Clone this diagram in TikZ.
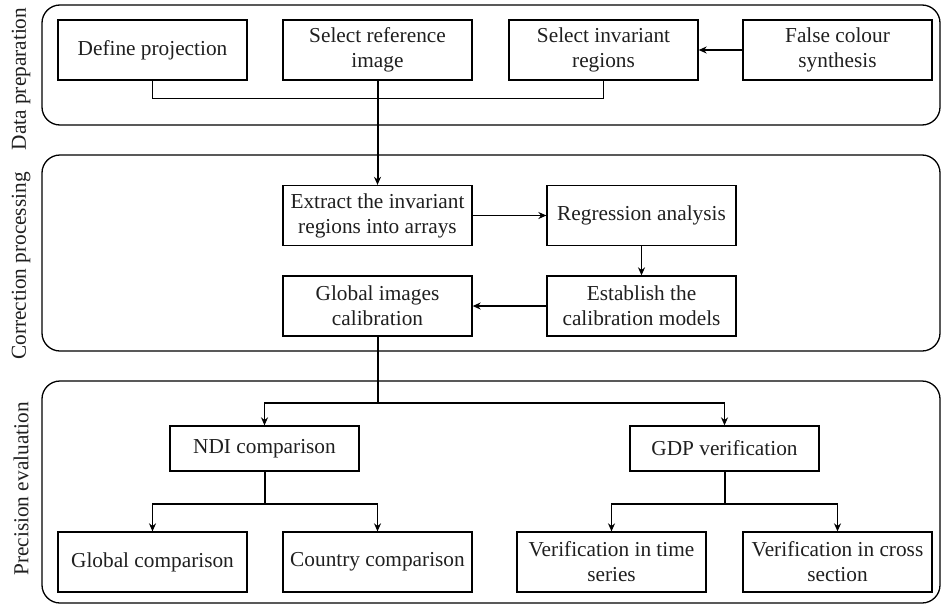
\documentclass[tikz,border=0pt]{standalone}
\usepackage{fontspec}
\setmainfont{Liberation Serif}
\usetikzlibrary{arrows.meta}
\begin{document}
\begin{tikzpicture}[x=1pt,y=-1pt,
  every node/.style={font=\fontsize{21.3}{25}\selectfont, text=black!88},
  box/.style={draw, line width=1.3pt, minimum width=189pt, minimum height=60pt, inner sep=0pt, align=center},
  sbox/.style={box, minimum height=45pt},
  panel/.style={draw, line width=1.3pt, rounded corners=18pt},
  link/.style={line width=1.3pt},
  stem/.style={line width=2pt},
  arr/.style={line width=1.3pt, -{Stealth[length=8pt,width=7pt]}},
  side/.style={rotate=90, anchor=center}]
\useasboundingbox (0,0) rectangle (941,605);
% panels
\draw[panel] (42,5) rectangle (940,125);
\draw[panel] (42,155) rectangle (940,351);
\draw[panel] (42,381) rectangle (940,603);
% side labels
\node[side] (l1) at (21,79) {Data preparation};
\node[side] (l2) at (21,266) {Correction processing};
\node[side] (l3) at (21,489) {Precision evaluation};
% row 1
\node[box] (dp) at (152.5,50) {Define projection};
\node[box] (sr) at (377.5,50) {Select reference\\image};
\node[box] (si) at (603.5,50) {Select invariant\\regions};
\node[box] (fc) at (837.5,50) {False colour\\synthesis};
% row 2
\node[box] (ex) at (377.5,215.5) {Extract the invariant\\regions into arrays};
\node[box] (ra) at (641.5,215.5) {Regression analysis};
\node[box] (es) at (641.5,306) {Establish the\\calibration models};
\node[box] (gi) at (377.5,306) {Global images\\calibration};
% row 3
\node[sbox] (ndi) at (264.5,448.5) {NDI comparison};
\node[sbox] (gdp) at (724.5,448.5) {GDP verification};
\node[box] (gc) at (152.5,562) {Global comparison};
\node[box] (cc) at (377.5,562) {Country comparison};
\node[box] (ts) at (611.5,562) {Verification in time\\series};
\node[box] (cs) at (837.5,562) {Verification in cross\\section};
% connectors
\draw[link] (dp.south) -- ++(0,18) -| (si.south);
\draw[stem, -{Stealth[length=8pt,width=7pt]}] (sr.south) -- (ex.north);
\draw[arr] (fc.west) -- (si.east);
\draw[arr] (ex.east) -- (ra.west);
\draw[arr] (ra.south) -- (es.north);
\draw[arr] (es.west) -- (gi.east);
\coordinate (j1) at (377.5,403);
\coordinate (j2) at (264.5,504);
\coordinate (j3) at (724.5,504);
\draw[stem] (gi.south) -- (j1);
\draw[arr] (j1) -| (ndi.north);
\draw[arr] (j1) -| (gdp.north);
\draw[stem] (ndi.south) -- (j2);
\draw[arr] (j2) -| (gc.north);
\draw[arr] (j2) -| (cc.north);
\draw[stem] (gdp.south) -- (j3);
\draw[arr] (j3) -| (ts.north);
\draw[arr] (j3) -| (cs.north);
\end{tikzpicture}
\end{document}
